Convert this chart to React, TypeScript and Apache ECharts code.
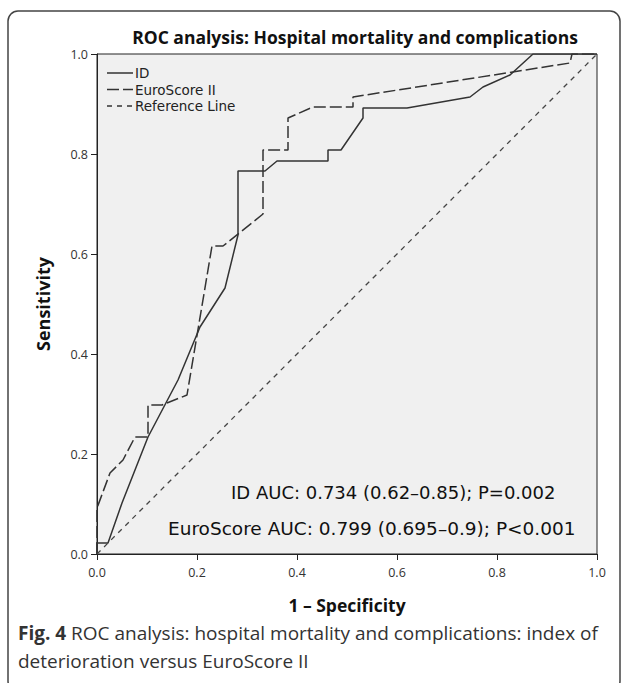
import React, { useEffect, useRef } from "react";
import * as echarts from "echarts";

const titleText = "ROC analysis: Hospital mortality and complications";
const xAxisName = "1 – Specificity";
const yAxisName = "Sensitivity";
const seriesNames = ["ID", "EuroScore II", "Reference Line"];

const idFpr = [0, 0, 0.022, 0.05, 0.102, 0.162, 0.206, 0.256, 0.282, 0.282, 0.336, 0.36, 0.462, 0.462, 0.488, 0.532, 0.532, 0.62, 0.746, 0.772, 0.826, 0.872, 1];
const idTpr = [0, 0.022, 0.022, 0.102, 0.234, 0.348, 0.454, 0.532, 0.638, 0.766, 0.766, 0.786, 0.786, 0.808, 0.808, 0.872, 0.892, 0.892, 0.914, 0.934, 0.958, 1, 1];

const euroFpr = [0, 0, 0.026, 0.052, 0.076, 0.102, 0.102, 0.13, 0.18, 0.23, 0.252, 0.332, 0.332, 0.382, 0.382, 0.432, 0.512, 0.512, 0.946, 0.95, 1];
const euroTpr = [0, 0.092, 0.162, 0.188, 0.234, 0.234, 0.298, 0.298, 0.318, 0.616, 0.616, 0.68, 0.808, 0.808, 0.872, 0.894, 0.894, 0.914, 0.982, 1, 1];

const refFpr = [0, 1];
const refTpr = [0, 1];

const annotations = [
  "ID AUC: 0.734 (0.62–0.85); P=0.002",
  "EuroScore AUC: 0.799 (0.695–0.9); P<0.001",
];
const captionBold = "Fig. 4";
const captionLine1 = " ROC analysis: hospital mortality and complications: index of";
const captionLine2 = "deterioration versus EuroScore II";

const zip = (xs: number[], ys: number[]) => xs.map((x, i) => [x, ys[i]]);

const FONT = "'Open Sans', 'DejaVu Sans', sans-serif";
const FONT2 = "'DejaVu Sans', 'Open Sans', sans-serif";
const INK = "#333";
const DASHES: Record<string, number[] | undefined> = {
  ID: undefined,
  "EuroScore II": [12, 4],
  "Reference Line": [5, 5],
};

export default function App() {
  const ref = useRef<HTMLDivElement>(null);
  useEffect(() => {
    if (!ref.current) return;
    const chart = echarts.init(ref.current, null, { renderer: "svg" });
    const legendItems: any[] = [];
    seriesNames.forEach((name, i) => {
      const y = 73 + i * 16.5;
      legendItems.push({
        type: "line",
        shape: { x1: 107, y1: y, x2: 133, y2: y },
        style: { stroke: INK, lineWidth: 1.5, lineDash: DASHES[name] },
        silent: true,
        z: 100,
      });
      legendItems.push({
        type: "text",
        x: 135,
        y,
        style: { text: name, font: `13.5px ${FONT2}`, fill: "#222", textVerticalAlign: "middle" },
        z: 100,
      });
    });
    chart.setOption({
      animation: false,
      backgroundColor: "#fff",
      textStyle: { fontFamily: FONT },
      title: {
        text: titleText,
        left: 350,
        top: 23,
        textAlign: "center",
        textStyle: { fontSize: 17.5, fontWeight: "bold", color: "#111", fontFamily: FONT },
      },
      grid: {
        left: 97,
        right: 30,
        top: 54,
        bottom: 129,
        show: true,
        backgroundColor: "#f0f0f0",
        borderColor: "#222",
        borderWidth: 1,
      },
      xAxis: {
        type: "value",
        min: 0,
        max: 1,
        interval: 0.2,
        name: xAxisName,
        nameLocation: "middle",
        nameGap: 42,
        nameTextStyle: { fontSize: 17.5, fontWeight: "bold", color: "#111" },
        axisLine: { show: true, lineStyle: { color: "#222", width: 1 } },
        axisTick: { show: true, length: 6, lineStyle: { color: "#222" } },
        axisLabel: { fontSize: 12.5, color: INK, margin: 12, formatter: (v: number) => v.toFixed(1) },
        splitLine: { show: false },
      },
      yAxis: {
        type: "value",
        min: 0,
        max: 1,
        interval: 0.2,
        name: yAxisName,
        nameLocation: "middle",
        nameGap: 45,
        nameRotate: 90,
        nameTextStyle: { fontSize: 18, fontWeight: "bold", color: "#111" },
        axisLine: { show: true, lineStyle: { color: "#222", width: 1 } },
        axisTick: { show: true, length: 6, lineStyle: { color: "#222" } },
        axisLabel: { fontSize: 12.5, color: INK, margin: 9, formatter: (v: number) => v.toFixed(1) },
        splitLine: { show: false },
      },
      series: [
        {
          name: seriesNames[0],
          type: "line",
          data: zip(idFpr, idTpr),
          symbol: "none",
          lineStyle: { color: INK, width: 1.5, type: "solid" },
          itemStyle: { color: INK },
        },
        {
          name: seriesNames[1],
          type: "line",
          data: zip(euroFpr, euroTpr),
          symbol: "none",
          lineStyle: { color: INK, width: 1.5, type: DASHES[seriesNames[1]] },
          itemStyle: { color: INK },
        },
        {
          name: seriesNames[2],
          type: "line",
          data: zip(refFpr, refTpr),
          symbol: "none",
          lineStyle: { color: "#444", width: 1.3, type: DASHES[seriesNames[2]] },
          itemStyle: { color: "#444" },
        },
      ],
      graphic: [
        {
          type: "rect",
          shape: { x: 8, y: 11, width: 612, height: 680, r: 10 },
          style: { fill: "none", stroke: "#444", lineWidth: 1.5 },
          silent: true,
          z: 100,
        },
        ...legendItems,
        {
          type: "text",
          x: 231,
          y: 492,
          style: { text: annotations[0], font: `18px ${FONT2}`, fill: "#111", textVerticalAlign: "middle" },
          z: 100,
        },
        {
          type: "text",
          x: 168,
          y: 528,
          style: { text: annotations[1], font: `18.5px ${FONT2}`, fill: "#111", textVerticalAlign: "middle" },
          z: 100,
        },
        {
          type: "text",
          x: 18,
          y: 633,
          style: {
            text: `{b|${captionBold}}{r|${captionLine1}}`,
            textVerticalAlign: "middle",
            rich: {
              b: { font: `bold 19px ${FONT}`, fill: "#333" },
              r: { font: `19px ${FONT}`, fill: "#333" },
            },
          },
          z: 100,
        },
        {
          type: "text",
          x: 18,
          y: 661,
          style: { text: captionLine2, font: `19px ${FONT}`, fill: "#333", textVerticalAlign: "middle" },
          z: 100,
        },
      ],
    });
    return () => chart.dispose();
  }, []);
  return <div ref={ref} style={{ position: "fixed", left: 0, top: 0, width: 627, height: 683 }} />;
}
